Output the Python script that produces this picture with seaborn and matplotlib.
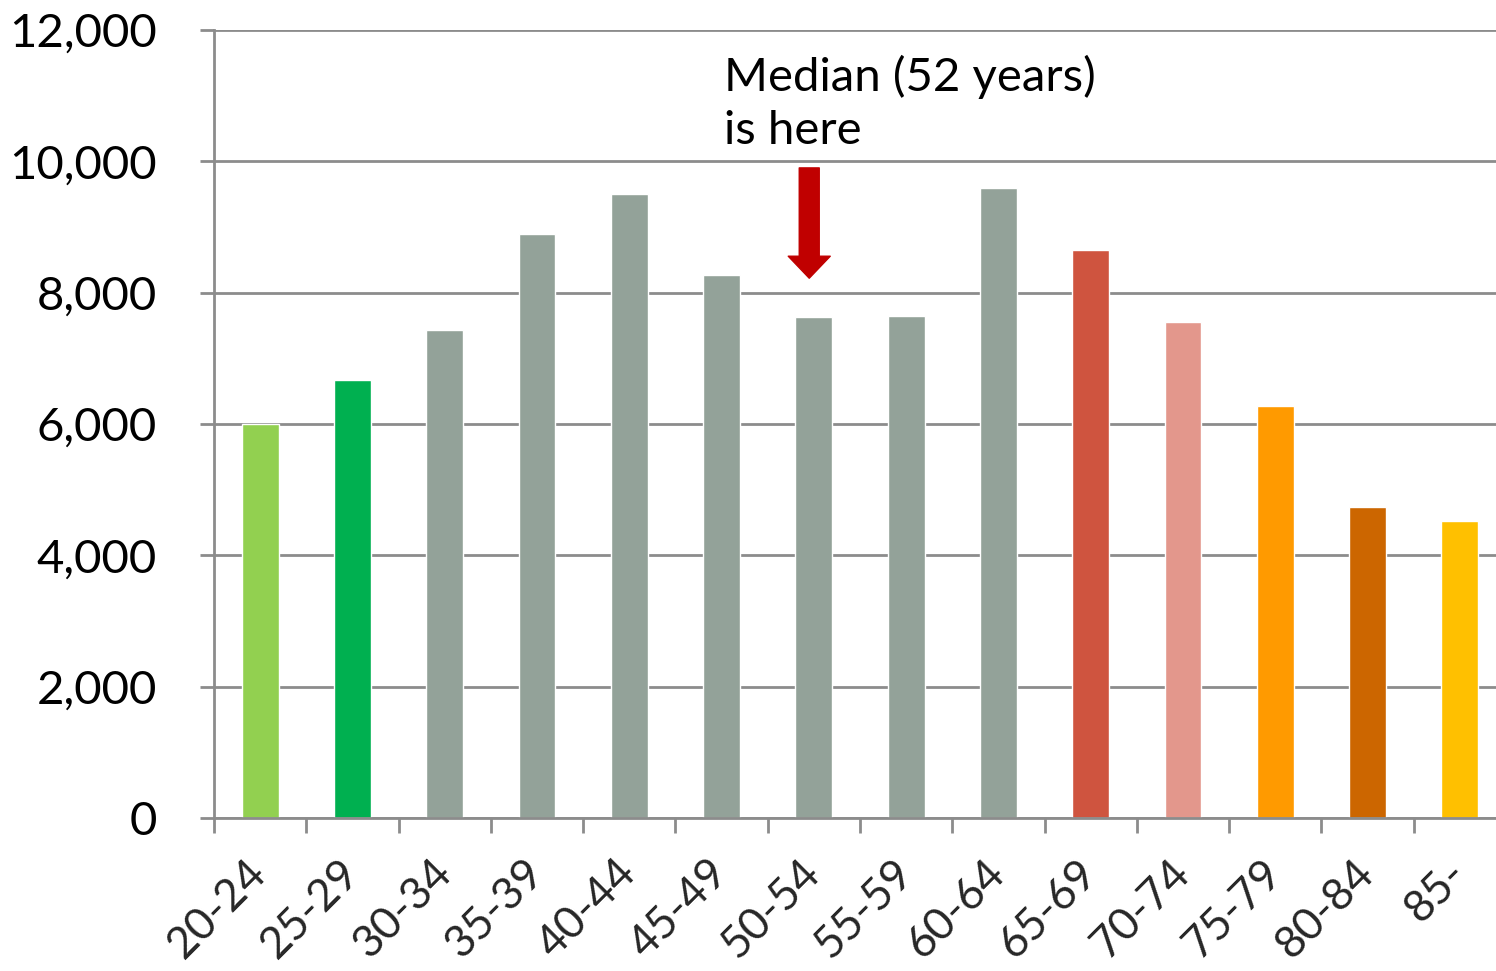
import matplotlib
matplotlib.use("Agg")
import matplotlib.pyplot as plt
import seaborn as sns
import pandas as pd
from matplotlib.ticker import FuncFormatter, FixedLocator

# Number of people by age group
age_groups = ["20-24", "25-29", "30-34", "35-39", "40-44", "45-49", "50-54",
              "55-59", "60-64", "65-69", "70-74", "75-79", "80-84", "85-"]
counts = [6000, 6670, 7430, 8890, 9500, 8270, 7630,
          7650, 9590, 8650, 7550, 6270, 4740, 4530]
bar_colors = ["#92D050", "#00B050", "#93A299", "#93A299", "#93A299", "#93A299",
              "#93A299", "#93A299", "#93A299", "#CF543F", "#E3978C", "#FF9A00",
              "#CC6600", "#FFC000"]
y_ticks = [0, 2000, 4000, 6000, 8000, 10000, 12000]
median_label = "Median (52 years)\nis here"
median_group = "50-54"

sns.set_theme(style="white")
plt.rcParams["font.family"] = ["Lato", "DejaVu Sans"]

df = pd.DataFrame({"age": age_groups, "count": counts})

fig = plt.figure(figsize=(14.96, 9.71), dpi=100)
ax = fig.add_axes([214 / 1496, 1 - 818 / 971, (1506 - 214) / 1496, 788 / 971])

sns.barplot(data=df, x="age", y="count", hue="age", palette=bar_colors,
            width=0.4, legend=False, saturation=1, ax=ax)

grid_color = "#8C8C8C"
ax.set_ylim(0, 12000)
ax.set_xlim(-0.5, len(age_groups) - 0.5)
ax.set_yticks(y_ticks)
ax.yaxis.set_major_formatter(FuncFormatter(lambda v, _: f"{int(v):,}"))
ax.grid(axis="y", color=grid_color, linewidth=2)
ax.set_axisbelow(True)
ax.set_xlabel("")
ax.set_ylabel("")

for side in ["top", "right"]:
    ax.spines[side].set_visible(False)
for side in ["left", "bottom"]:
    ax.spines[side].set_color(grid_color)
    ax.spines[side].set_linewidth(2)

ax.tick_params(axis="y", left=True, length=10, width=2, color=grid_color,
               labelsize=34, pad=31, labelcolor="black")

# category labels at bar centres, tick marks at the boundaries
ax.set_xticks(range(len(age_groups)))
ax.set_xticklabels(age_groups, rotation=45, ha="right", va="center",
                   rotation_mode="anchor", fontsize=32)
ax.tick_params(axis="x", which="major", length=0, pad=35)
ax.xaxis.set_minor_locator(FixedLocator([i - 0.5 for i in range(len(age_groups) + 1)]))
ax.tick_params(axis="x", which="minor", bottom=True, length=11, width=2,
               color=grid_color)

# median marker
mi = age_groups.index(median_group)
ax.annotate("", xy=(mi - 0.05, 8220), xytext=(mi - 0.05, 9900),
            arrowprops=dict(arrowstyle="simple,head_length=1.1,head_width=2.1,tail_width=1.0",
                            color="#C00000", mutation_scale=14.4, shrinkA=0, shrinkB=0))
ax.text(mi - 0.97, 10880, median_label, fontsize=34, ha="left", va="center",
        linespacing=1.33, color="black")

fig.savefig("out.png", dpi=100)
